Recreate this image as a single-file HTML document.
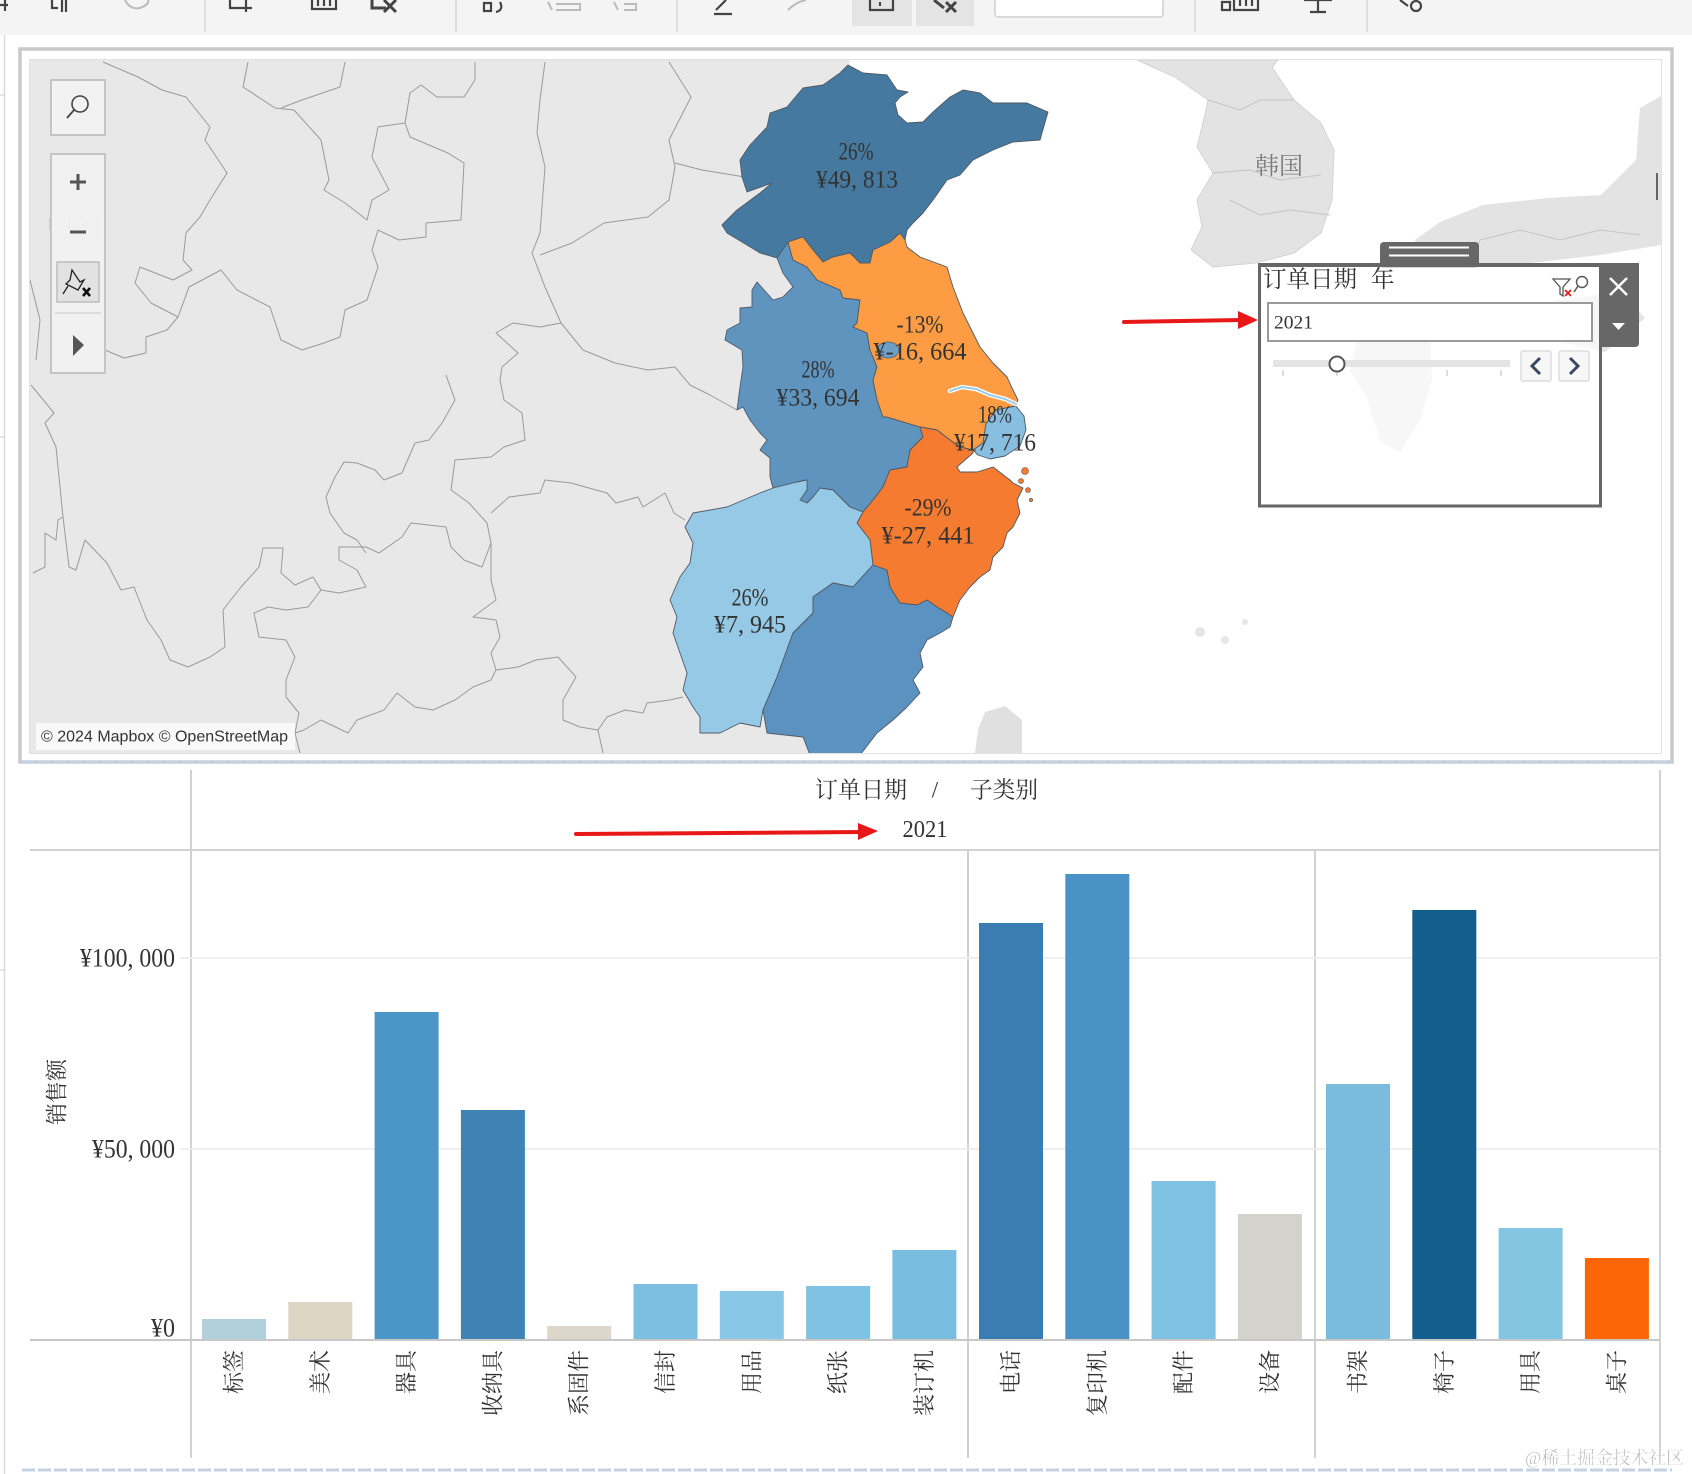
<!DOCTYPE html>
<html><head><meta charset="utf-8"><style>
html,body{margin:0;padding:0;background:#fff;}
body{width:1692px;height:1474px;overflow:hidden;position:relative;}
svg{position:absolute;left:0;top:0;}
.s{font-family:"Liberation Serif","Noto Serif CJK SC",serif;fill:#333;}
.c{font-family:"Liberation Serif","Noto Serif CJK SC",serif;}
</style></head><body>
<svg width="1692" height="1474" viewBox="0 0 1692 1474" xmlns="http://www.w3.org/2000/svg">
<defs><clipPath id="mc"><rect x="30" y="60" width="1631" height="693"/></clipPath></defs>
<!-- toolbar -->
<rect x="0" y="0" width="1692" height="35" fill="#f4f4f4"/>
<g stroke="#d6d6d6" stroke-width="1.5">
<line x1="205" y1="0" x2="205" y2="32"/><line x1="456" y1="0" x2="456" y2="32"/><line x1="677" y1="0" x2="677" y2="32"/><line x1="1195" y1="0" x2="1195" y2="32"/><line x1="1367" y1="0" x2="1367" y2="32"/>
</g>
<rect x="852" y="0" width="60" height="26" fill="#e4e4e4"/>
<rect x="916" y="0" width="58" height="26" fill="#e4e4e4"/>
<rect x="995" y="-3" width="168" height="20" rx="3" fill="#fff" stroke="#cfcfcf" stroke-width="1.5"/>
<g stroke="#444" stroke-width="2.2" fill="none">
<path d="M0 5 H8 M5 0 V11"/>
<path d="M52 0 V8 H58 M62 0 V12 M66 0 V12"/>
<path d="M230 0 V8 H250 M246 0 V12 M240 8 H252"/>
<path d="M312 0 V9 H336 V0 M318 0 V6 M324 0 V6 M330 0 V6"/>
<path d="M372 0 V8 H386 M384 0 L396 12 M396 0 L384 12" stroke-width="3"/>
<path d="M484 3 H491 V11 H484 Z M500 2 Q504 10 496 12"/>
<path d="M714 14 H732 M716 10 L726 0"/>
<path d="M870 0 V10 H893 V0 M880 2 V6"/>
<path d="M934 0 L944 8 M946 2 L956 12 M956 2 L946 12" stroke-width="3"/>
<path d="M1222 2 H1230 V10 H1222 Z M1234 0 V10 H1258 V0 M1240 0 V6 M1246 0 V6 M1252 0 V6"/>
<path d="M1304 0 H1332 M1318 0 V12 M1310 12 H1326"/>
<path d="M1400 0 L1408 6" /><circle cx="1416" cy="6" r="5"/>
</g>
<g stroke="#bbb" stroke-width="2" fill="none">
<path d="M125 0 Q130 10 140 8 Q150 4 148 0"/>
<path d="M548 2 L552 10 M556 4 H580 V10 H556"/>
<path d="M614 2 L618 10 M624 4 H636 V10 H624"/>
<path d="M788 10 Q796 2 806 0"/>
</g>
<line x1="4.5" y1="35" x2="4.5" y2="1474" stroke="#dcdcdc" stroke-width="1.5"/>
<line x1="0" y1="95" x2="5" y2="95" stroke="#ccc"/><line x1="0" y1="437" x2="5" y2="437" stroke="#ccc"/><line x1="0" y1="970" x2="5" y2="970" stroke="#ccc"/>

<!-- map frame -->
<rect x="20" y="49" width="1652" height="713" fill="#fff" stroke="#c9c9c9" stroke-width="3.5"/>
<rect x="29.5" y="59.5" width="1632" height="694" fill="#fff" stroke="#e2e2e2" stroke-width="1"/>
<g clip-path="url(#mc)">
<!-- land -->
<polygon points="30,60 850,60 840,100 800,200 850,300 900,400 880,600 820,753 30,753" fill="#e8e8e8"/>
<polygon points="1137,60 1278,60 1272,67 1294,100 1321,123 1334,150 1332,200 1321,233 1294,253 1256,263 1213,267 1191,250 1202,227 1197,200 1213,173 1197,147 1202,127 1208,100 1175,77" fill="#e3e3e3" stroke="#d4d4d4"/>
<polygon points="1661,96 1640,108 1636,160 1601,195 1548,198 1483,205 1440,222 1415,240 1420,262 1470,268 1540,262 1600,255 1661,245" fill="#e3e3e3"/>
<polygon points="1555,300 1620,292 1645,318 1605,352 1560,342" fill="#e3e3e3"/>
<polygon points="1360,330 1400,318 1430,335 1432,380 1420,420 1400,452 1380,442 1368,400 1350,370" fill="#e3e3e3"/>
<polygon points="985,712 1005,706 1022,720 1022,753 975,753 978,730" fill="#e0e0e0"/>
<g fill="#e6e6e6"><circle cx="1200" cy="632" r="5"/><circle cx="1225" cy="640" r="4"/><circle cx="1245" cy="622" r="3"/></g>
<!-- internal land borders -->
<g fill="none" stroke="#9a9a9a" stroke-width="1" stroke-linejoin="round">
<polyline points="103,62 138,77 162,90 186,97 210,127 205,140 227,173 210,200 200,217 186,233 183,260 192,270 173,280 140,267 135,283 151,303 178,317 167,330 146,337 146,353 124,358 105,350"/>
<polyline points="248,62 243,87 275,108 294,110 321,140 329,180 324,190 345,203 367,220 372,200 389,190 372,157 378,127 405,123 410,93 421,85 437,97 464,97 475,80 475,62"/>
<polyline points="345,62 340,87 302,100 281,108"/>
<polyline points="405,123 410,137 448,153 464,163 461,220 426,223 426,237 399,240 378,230 372,250 378,267 367,300 345,310 340,337 324,343 302,350 281,340 270,307 237,290 221,270 189,287 178,317"/>
<polyline points="545,62 540,100 537,133 545,167 540,233 532,253 545,287 561,323 540,327 513,323 496,333 518,353 502,367 500,380 504,400 522,413 525,440 504,447 491,457 455,460 451,490 469,503 487,523 491,543 491,580 496,600 473,617 496,620 500,637 491,653 496,670 491,680 473,687 455,700 433,710 415,707 397,693 384,710 357,720 348,733 321,720 304,730 295,733"/>
<polyline points="446,375 455,400 442,423 429,440 415,443 402,473 384,480 375,470 357,463 344,462 335,477 326,497 330,513 344,533 357,540 366,553"/>
<polyline points="31,385 54,413 45,423 56,447 63,517 58,520 56,540 45,533 45,567 33,573"/>
<polyline points="63,517 69,567 76,570 85,540 107,563 121,590 134,587 147,620 161,640 170,660 188,667 210,657 225,647 223,610 241,587 259,567 263,548 283,548 281,573 295,585 313,577 321,590 339,593 366,587 357,570 339,560 339,547 366,547 379,553 402,537 411,523 446,527 451,547 464,560 482,567 491,543"/>
<polyline points="491,513 509,497 540,493 545,480 571,483 607,493 616,503 638,497 643,507 665,493 674,513 685,520"/>
<polyline points="496,670 518,667 536,660 558,657 576,677 563,700 563,720 580,727 598,730 607,717 625,710 643,713 647,703 670,700 683,697"/>
<polyline points="598,730 603,753"/>
<polyline points="321,590 308,607 286,610 268,607 254,613 259,637 286,640 295,657 286,680 286,697 299,713 295,733 300,753"/>
<polyline points="669,62 691,97 669,140 675,167 669,200 648,217 604,223 572,243 540,255"/>
<polyline points="675,163 702,170 745,177"/>
<polyline points="561,323 583,350 615,363 648,370 675,367 690,385 710,395 737,410"/>
<polyline points="30,280 40,320 36,360"/>
</g>
<g fill="none" stroke="#c4c4c4" stroke-width="1">
<polyline points="1208,100 1240,110 1260,100 1294,100"/>
<polyline points="1213,173 1250,170 1280,180 1321,175"/>
<polyline points="1230,200 1260,215 1290,210 1330,215"/>
<polyline points="1470,268 1480,240 1520,230 1560,240 1600,230 1640,235"/>
</g>
<!-- provinces -->
<g stroke="#4f5a66" stroke-width="0.9" stroke-linejoin="round">
<polygon fill="#46799f" points="848,65 863,73 887,75 897,90 908,92 900,97 895,103 898,115 907,123 923,122 933,112 950,97 963,90 980,93 993,103 1027,103 1048,112 1040,140 1013,142 993,150 973,160 960,175 947,180 933,200 923,213 913,223 907,230 905,240 900,233 890,242 873,250 870,263 860,263 850,253 833,257 823,262 813,250 803,237 788,242 787,250 777,258 760,253 747,245 727,233 722,225 737,210 760,193 772,183 747,192 742,177 740,160 750,145 767,127 770,113 787,107 803,88 823,85 840,73"/>
<polygon fill="#5f94bf" points="777,258 788,242 793,260 807,267 817,280 840,290 843,298 860,300 857,323 853,327 867,333 870,350 877,367 873,380 877,400 883,417 887,417 920,427 923,437 910,450 907,467 890,470 883,487 873,500 863,512 850,507 833,490 820,488 813,497 807,503 800,500 807,490 807,480 797,482 773,488 770,477 770,458 760,450 767,440 760,433 750,420 743,407 737,410 740,387 743,367 742,350 725,340 727,330 740,323 740,308 752,307 752,290 757,282 773,300 783,297 793,287 783,273"/>
<polygon fill="#fd9c42" points="788,242 803,237 813,250 823,262 833,257 850,253 860,263 870,263 873,250 890,242 900,233 905,240 907,247 920,257 947,267 953,287 963,313 980,347 993,363 1007,377 1013,390 1018,400 1016,406 996,410 986,424 983,443 973,450 960,447 950,440 937,430 920,427 887,417 883,417 877,400 873,380 877,367 870,350 867,333 853,327 857,323 860,300 843,298 840,290 817,280 807,267 793,260"/>
<polygon fill="#88bfe0" points="996,410 1016,406 1024,416 1026,430 1020,446 1005,456 990,459 978,455 973,450 983,443 986,424"/>
<polygon fill="#f57b30" points="863,512 873,500 883,487 890,470 907,467 910,450 923,437 920,427 937,430 950,440 960,447 973,450 973,453 957,467 960,472 977,472 993,467 1010,480 1013,483 1023,488 1017,500 1020,513 1013,527 1007,533 1003,547 993,557 990,570 980,577 970,587 960,600 953,617 947,613 937,607 927,600 917,605 900,603 890,587 887,570 873,565 870,540 857,523"/>
<polygon fill="#95c9e6" points="773,488 797,482 807,480 807,490 800,500 807,503 813,497 820,488 833,490 850,507 863,512 857,523 870,540 873,565 853,587 833,583 813,597 813,613 793,633 777,677 763,710 760,727 740,723 720,733 700,733 700,717 693,707 683,690 687,673 680,653 673,633 677,617 670,600 680,577 690,563 693,543 685,527 693,513 727,507 760,493"/>
<polygon fill="#5c92bf" points="873,565 887,570 890,587 900,603 917,605 927,600 937,607 947,613 953,617 950,627 940,633 927,640 920,653 923,667 913,680 920,693 907,707 893,720 877,733 860,755 810,755 803,737 767,733 763,710 777,677 793,633 813,613 813,597 833,583 853,587"/>
</g>
<g fill="#f57b30" stroke="#4f5a66" stroke-width="0.6"><circle cx="1025" cy="471" r="3.5"/><circle cx="1021" cy="481" r="2.5"/><circle cx="1028" cy="490" r="2.5"/><circle cx="1031" cy="500" r="1.8"/></g>
<ellipse cx="888" cy="350" rx="11" ry="8" fill="#6d9fc8" stroke="#4f5a66" stroke-width="0.7"/>
<polyline points="950,391 962,387 976,389 990,395 1005,399 1016,404" fill="none" stroke="#fff" stroke-width="4.5" stroke-linecap="round"/>
<polyline points="950,391 962,387 976,389 990,395 1005,399 1016,404" fill="none" stroke="#9ccbe6" stroke-width="2" stroke-linecap="round"/>
<!-- labels -->
<g class="s" font-size="25" text-anchor="middle" dominant-baseline="central">
<text x="856" y="152" textLength="35" lengthAdjust="spacingAndGlyphs">26%</text>
<text x="857" y="180" textLength="82" lengthAdjust="spacingAndGlyphs">¥49, 813</text>
<text x="920" y="325" textLength="47" lengthAdjust="spacingAndGlyphs">-13%</text>
<text x="920" y="352" textLength="93" lengthAdjust="spacingAndGlyphs">¥-16, 664</text>
<text x="818" y="370" textLength="33" lengthAdjust="spacingAndGlyphs">28%</text>
<text x="818" y="398" textLength="83" lengthAdjust="spacingAndGlyphs">¥33, 694</text>
<text x="995" y="415" textLength="34" lengthAdjust="spacingAndGlyphs">18%</text>
<text x="995" y="443" textLength="82" lengthAdjust="spacingAndGlyphs">¥17, 716</text>
<text x="928" y="508" textLength="47" lengthAdjust="spacingAndGlyphs">-29%</text>
<text x="928" y="536" textLength="93" lengthAdjust="spacingAndGlyphs">¥-27, 441</text>
<text x="750" y="598" textLength="37" lengthAdjust="spacingAndGlyphs">26%</text>
<text x="750" y="625" textLength="72" lengthAdjust="spacingAndGlyphs">¥7, 945</text>
</g>
<text x="1279" y="167" class="c" font-size="24" fill="#7a7a7a" text-anchor="middle" dominant-baseline="central">韩国</text>
<text x="46" y="227" class="c" font-size="27" fill="#cfcfcf" dominant-baseline="central">中国</text>
<line x1="1657" y1="173" x2="1657" y2="200" stroke="#666" stroke-width="2"/>
<!-- zoom controls -->
<rect x="51" y="80" width="54" height="55" fill="#f2f2f2" fill-opacity="0.92" stroke="#c4c4c4" stroke-width="2"/>
<circle cx="80" cy="104" r="8" fill="none" stroke="#444" stroke-width="1.6"/>
<line x1="74" y1="110" x2="67" y2="118" stroke="#444" stroke-width="1.8"/>
<rect x="51" y="154" width="54" height="219" fill="#f2f2f2" fill-opacity="0.9" stroke="#c4c4c4" stroke-width="2"/>
<g stroke="#555" stroke-width="3"><line x1="70" y1="182" x2="86" y2="182"/><line x1="78" y1="174" x2="78" y2="190"/><line x1="70" y1="232" x2="86" y2="232"/></g>
<rect x="57" y="262" width="42" height="40" fill="#e2e2e2" stroke="#bdbdbd" stroke-width="1.5"/>
<path d="M72 270 L80 282 L84 280 L78 290 L66 284 L70 280 Z M68 286 L63 294" fill="none" stroke="#222" stroke-width="1.3"/>
<path d="M83 288 L90 296 M90 288 L83 296" stroke="#111" stroke-width="2.6"/>
<line x1="55" y1="313" x2="101" y2="313" stroke="#dcdcdc" stroke-width="2"/>
<polygon points="73,335 84,345 73,356" fill="#555"/>
<!-- attribution -->
<rect x="36" y="723" width="259" height="27" fill="#fff" fill-opacity="0.75"/>
<text x="41" y="737" font-family="'Liberation Sans',sans-serif" font-size="16" fill="#333" dominant-baseline="central" textLength="247" lengthAdjust="spacingAndGlyphs">© 2024 Mapbox © OpenStreetMap</text>
</g>
<line x1="22" y1="762" x2="1672" y2="762" stroke="#c4d1e6" stroke-width="3" stroke-dasharray="13 3"/>

<!-- filter box -->
<rect x="1380" y="242" width="99" height="26" rx="4" fill="#676767"/>
<line x1="1389" y1="247.5" x2="1469" y2="247.5" stroke="#fff" stroke-width="2"/>
<line x1="1389" y1="255.5" x2="1469" y2="255.5" stroke="#fff" stroke-width="2"/>
<rect x="1259.5" y="265" width="341" height="241" fill="#fff" fill-opacity="0.72" stroke="#666" stroke-width="3"/>
<rect x="1258" y="263" width="344" height="4" fill="#666"/>
<path d="M1600 263 H1639 V343 Q1639 347 1635 347 H1600 Z" fill="#676767"/>
<path d="M1610 278 L1627 295 M1627 278 L1610 295" stroke="#fff" stroke-width="2.5"/>
<polygon points="1612,323 1625,323 1618.5,330" fill="#fff"/>
<text x="1263" y="280" class="s" font-size="23.5" dominant-baseline="central" textLength="94" lengthAdjust="spacingAndGlyphs">订单日期</text>
<text x="1371" y="280" class="s" font-size="23.5" dominant-baseline="central">年</text>
<path d="M1553 279 H1570 L1563 287 V296 L1560 294 V287 Z" fill="none" stroke="#555" stroke-width="1.3"/>
<path d="M1565 290 L1571 296 M1571 290 L1565 296" stroke="#e02020" stroke-width="1.8"/>
<circle cx="1582" cy="282" r="5.5" fill="none" stroke="#555" stroke-width="1.4"/>
<line x1="1578" y1="286" x2="1574" y2="292" stroke="#555" stroke-width="1.5"/>
<rect x="1268" y="303" width="324" height="38" fill="#fff" stroke="#9a9a9a" stroke-width="2"/>
<text x="1274" y="323" class="s" font-size="19" dominant-baseline="central" textLength="39" lengthAdjust="spacingAndGlyphs">2021</text>
<rect x="1273" y="360" width="237" height="7" fill="#e4e4e4"/>
<g stroke="#c4c4c4" stroke-width="1.2"><line x1="1283" y1="370" x2="1283" y2="376"/><line x1="1337" y1="370" x2="1337" y2="376"/><line x1="1447" y1="370" x2="1447" y2="376"/><line x1="1501" y1="370" x2="1501" y2="376"/></g>
<circle cx="1337" cy="364" r="7.5" fill="#fff" stroke="#555" stroke-width="2"/>
<rect x="1521" y="351" width="30" height="30" rx="2" fill="#f7f7f7" stroke="#ddd" stroke-width="1.5"/>
<rect x="1559" y="351" width="30" height="30" rx="2" fill="#f7f7f7" stroke="#ddd" stroke-width="1.5"/>
<path d="M1540 358 L1532 366 L1540 374" fill="none" stroke="#3b4a60" stroke-width="3"/>
<path d="M1570 358 L1578 366 L1570 374" fill="none" stroke="#3b4a60" stroke-width="3"/>
<!-- red arrow 1 -->
<line x1="1124" y1="322" x2="1242" y2="320" stroke="#e81818" stroke-width="4" stroke-linecap="round"/>
<polygon points="1238,311 1258,320 1238,329" fill="#e81818"/>

<!-- bottom chart -->
<g stroke="#d2d2d2" stroke-width="2">
<line x1="191" y1="770" x2="191" y2="1458"/>
<line x1="1660" y1="770" x2="1660" y2="1458"/>
<line x1="30" y1="850" x2="1660" y2="850"/>
<line x1="968" y1="850" x2="968" y2="1458"/>
<line x1="1315" y1="850" x2="1315" y2="1458"/>
</g>
<g stroke="#ededed" stroke-width="1.8"><line x1="180" y1="958" x2="1660" y2="958"/><line x1="180" y1="1149" x2="1660" y2="1149"/></g>
<text x="815" y="790" class="s" font-size="23" dominant-baseline="central" textLength="92" lengthAdjust="spacingAndGlyphs">订单日期</text>
<text x="935" y="790" class="s" font-size="23" text-anchor="middle" dominant-baseline="central">/</text>
<text x="970" y="790" class="s" font-size="23" dominant-baseline="central" textLength="68" lengthAdjust="spacingAndGlyphs">子类别</text>
<text x="925" y="830" class="s" font-size="24" text-anchor="middle" dominant-baseline="central" textLength="45" lengthAdjust="spacingAndGlyphs">2021</text>
<line x1="576" y1="834" x2="864" y2="832" stroke="#e81818" stroke-width="4" stroke-linecap="round"/>
<polygon points="858,823 878,831 858,840" fill="#e81818"/>
<g class="s" font-size="26" text-anchor="end" dominant-baseline="central">
<text x="175" y="958" textLength="95" lengthAdjust="spacingAndGlyphs">¥100, 000</text>
<text x="175" y="1149" textLength="83" lengthAdjust="spacingAndGlyphs">¥50, 000</text>
<text x="175" y="1328" textLength="24" lengthAdjust="spacingAndGlyphs">¥0</text>
</g>
<text transform="translate(57,1092) rotate(-90)" class="s" font-size="22" text-anchor="middle" dominant-baseline="central">销售额</text>
<!-- bars -->
<g>
<rect x="202" y="1319" width="64" height="21" fill="#b0d1db"/>
<rect x="288.3" y="1302" width="64" height="38" fill="#ddd6c4"/>
<rect x="374.6" y="1012" width="64" height="328" fill="#4a96c6"/>
<rect x="460.9" y="1110" width="64" height="230" fill="#3f83b5"/>
<rect x="547.2" y="1326" width="64" height="14" fill="#dcd7ca"/>
<rect x="633.5" y="1284" width="64" height="56" fill="#7dbfe0"/>
<rect x="719.8" y="1291" width="64" height="49" fill="#89c7e6"/>
<rect x="806.1" y="1286" width="64" height="54" fill="#80c2e2"/>
<rect x="892.4" y="1250" width="64" height="90" fill="#79bee0"/>
<rect x="979" y="923" width="64" height="417" fill="#3b7db2"/>
<rect x="1065.3" y="874" width="64" height="466" fill="#4a92c6"/>
<rect x="1151.6" y="1181" width="64" height="159" fill="#7ec1e1"/>
<rect x="1237.9" y="1214" width="64" height="126" fill="#d3d3cc"/>
<rect x="1326" y="1084" width="64" height="256" fill="#7bbcdd"/>
<rect x="1412.3" y="910" width="64" height="430" fill="#135e8d"/>
<rect x="1498.6" y="1228" width="64" height="112" fill="#84c5e2"/>
<rect x="1584.9" y="1258" width="64" height="82" fill="#fd6606"/>
</g>
<line x1="30" y1="1340" x2="1660" y2="1340" stroke="#c8c8c8" stroke-width="2"/>
<g class="s" font-size="22" text-anchor="end" dominant-baseline="central">
<text transform="translate(234,1350) rotate(-90)">标签</text>
<text transform="translate(320.3,1350) rotate(-90)">美术</text>
<text transform="translate(406.6,1350) rotate(-90)">器具</text>
<text transform="translate(492.9,1350) rotate(-90)">收纳具</text>
<text transform="translate(579.2,1350) rotate(-90)">系固件</text>
<text transform="translate(665.5,1350) rotate(-90)">信封</text>
<text transform="translate(751.8,1350) rotate(-90)">用品</text>
<text transform="translate(838.1,1350) rotate(-90)">纸张</text>
<text transform="translate(924.4,1350) rotate(-90)">装订机</text>
<text transform="translate(1011,1350) rotate(-90)">电话</text>
<text transform="translate(1097.3,1350) rotate(-90)">复印机</text>
<text transform="translate(1183.6,1350) rotate(-90)">配件</text>
<text transform="translate(1269.9,1350) rotate(-90)">设备</text>
<text transform="translate(1358,1350) rotate(-90)">书架</text>
<text transform="translate(1444.3,1350) rotate(-90)">椅子</text>
<text transform="translate(1530.6,1350) rotate(-90)">用具</text>
<text transform="translate(1616.9,1350) rotate(-90)">桌子</text>
</g>
<line x1="22" y1="1470" x2="1672" y2="1470" stroke="#c4d1e6" stroke-width="3" stroke-dasharray="13 3"/>
<text x="1525" y="1458" class="c" font-size="18" fill="#b4b4b4" stroke="#fff" stroke-width="0.3" dominant-baseline="central" textLength="159" lengthAdjust="spacingAndGlyphs">@稀土掘金技术社区</text>
</svg>
</body></html>
